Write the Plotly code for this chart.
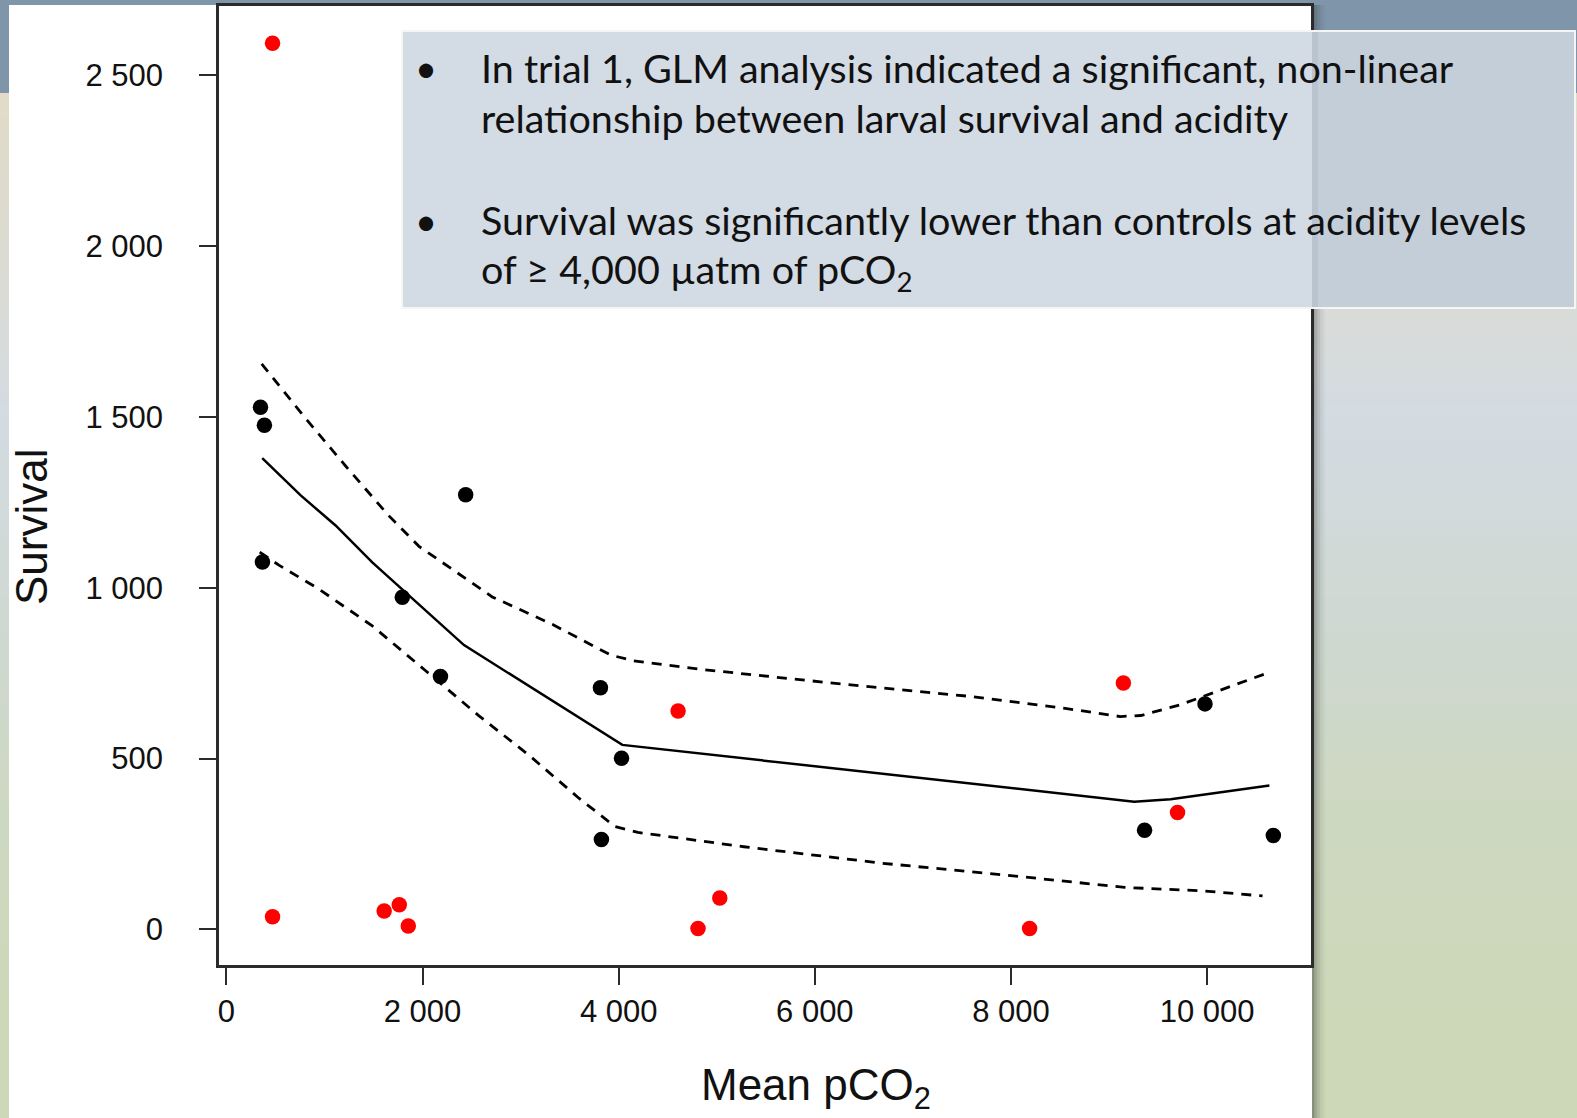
import plotly.graph_objects as go

W, H = 1577, 1118

# ---------------- data ----------------
black_x = [348, 388, 368, 1794, 2183, 2440, 3814, 4029, 3824, 9362, 9978, 10675]
black_y = [1528, 1475, 1075, 972, 740, 1272, 707, 501, 263, 290, 660, 275]

red_x = [471, 471, 1609, 1763, 1855, 4606, 4809, 5031, 8190, 9146, 9698]
red_y = [2593, 37, 54, 72, 10, 639, 3, 92, 3, 721, 342]

fit_x = [366, 758, 1114, 1488, 2423, 4037, 9256, 9628, 10635]
fit_y = [1379, 1270, 1182, 1074, 832, 540, 374, 381, 421]

upper_x = [360, 774, 1216, 1658, 1964, 2354, 2711, 3323, 3917, 4151, 4806,
           6211, 7615, 8551, 9114, 9324, 9722, 10611]
upper_y = [1655, 1507, 1356, 1210, 1121, 1044, 973, 893, 803, 786, 762,
           720, 681, 647, 623, 626, 657, 750]

lower_x = [340, 536, 944, 1488, 2032, 2576, 3085, 3595, 3963, 4197, 5275,
           6679, 8083, 9160, 9956, 10565]
lower_y = [1104, 1066, 996, 888, 757, 625, 510, 384, 301, 284, 242,
           194, 155, 123, 113, 98]

x_tickvals = [0, 2000, 4000, 6000, 8000, 10000]
x_ticktext = ["0", "2 000", "4 000", "6 000", "8 000", "10 000"]
y_tickvals = [0, 500, 1000, 1500, 2000, 2500]
y_ticktext = ["0", "500", "1 000", "1 500", "2 000", "2 500"]

bullet_lines = [
    "In trial 1, GLM analysis indicated a significant, non-linear",
    "relationship between larval survival and acidity",
    "Survival was significantly lower than controls at acidity levels",
    "of \u2265 4,000 \u00b5atm of pCO<sub>2</sub>",
]
x_title = "Mean pCO<sub>2</sub>"
y_title = "Survival"

# ---------------- figure ----------------
fig = go.Figure()

fig.add_trace(go.Scatter(x=upper_x, y=upper_y, mode="lines",
                         line=dict(color="black", width=2.8, dash="10px,8px"),
                         hoverinfo="skip"))
fig.add_trace(go.Scatter(x=lower_x, y=lower_y, mode="lines",
                         line=dict(color="black", width=2.8, dash="10px,8px"),
                         hoverinfo="skip"))
fig.add_trace(go.Scatter(x=fit_x, y=fit_y, mode="lines",
                         line=dict(color="black", width=2.5),
                         hoverinfo="skip"))
fig.add_trace(go.Scatter(x=black_x, y=black_y, mode="markers",
                         marker=dict(color="black", size=15.5, line=dict(width=0))))
fig.add_trace(go.Scatter(x=red_x, y=red_y, mode="markers",
                         marker=dict(color="#FF0000", size=15.5, line=dict(width=0))))


def px_x(p):
    return p / W


def px_y(p):
    return 1 - p / H


shapes = []


def rect(x0, y0, x1, y1, fill, layer="below", line=None):
    d = dict(type="rect", xref="paper", yref="paper",
             x0=px_x(x0), x1=px_x(x1), y0=px_y(y1), y1=px_y(y0),
             fillcolor=fill, layer=layer, line=dict(width=0))
    if line is not None:
        d["line"] = line
    shapes.append(d)


def hex2rgb(h):
    h = h.lstrip("#")
    return tuple(int(h[i:i + 2], 16) for i in (0, 2, 4))


# slide background: top band + vertical gradient
rect(0, 0, W, 93, "#7F95AA")
stops = [(93, "#E2DCC7"), (250, "#DCDBD2"), (420, "#D4DBE2"), (600, "#D0D9D4"),
         (800, "#CED8C2"), (1000, "#CDD8BA"), (1118, "#CDD8B8")]
step = 12
y = 93
while y < H:
    yc = y + step / 2
    for (a, ca), (b, cb) in zip(stops[:-1], stops[1:]):
        if a <= yc <= b:
            t = (yc - a) / (b - a)
            r1, g1, b1 = hex2rgb(ca)
            r2, g2, b2 = hex2rgb(cb)
            col = "rgb(%d,%d,%d)" % (r1 + (r2 - r1) * t, g1 + (g2 - g1) * t, b1 + (b2 - b1) * t)
            break
    rect(0, y, W, min(y + step + 1, H), col)
    y += step

# white picture area
rect(9, 5, 1312, H, "white")
# shadow right of the white area
for i, a in enumerate([0.42, 0.28, 0.17, 0.09, 0.04]):
    rect(1312 + 2.6 * i, 5, 1312 + 2.6 * (i + 1), H, "rgba(40,45,40,%.2f)" % a)

# text box (above axes)
rect(402, 31, 1312, 308, "#D3DBE4", layer="above")
rect(1312, 31, 1575, 308, "#C4CED9", layer="above")
rect(1312, 31, 1318, 308, "#BAC4CE", layer="above")
rect(402, 31, 1575, 308, "rgba(0,0,0,0)", layer="above",
     line=dict(color="#F4F6F2", width=2))

annotations = []
line_y = [67.0, 117.4, 220.0, 271.3]
for txt, yy in zip(bullet_lines, line_y):
    annotations.append(dict(text=txt, xref="paper", yref="paper",
                            x=px_x(479), y=px_y(yy), xanchor="left", yanchor="middle",
                            showarrow=False,
                            font=dict(family="Lato", size=39.5, color="#111111")))
for yy in (line_y[0], line_y[2]):
    annotations.append(dict(text="\u2022", xref="paper", yref="paper",
                            x=px_x(426), y=px_y(yy), xanchor="center", yanchor="middle",
                            showarrow=False,
                            font=dict(family="Lato", size=38, color="#111111")))

annotations.append(dict(text=x_title, xref="paper", yref="paper",
                        x=px_x(816), y=px_y(1088), xanchor="center", yanchor="middle",
                        showarrow=False,
                        font=dict(family="Liberation Sans", size=44, color="#111111")))
annotations.append(dict(text=y_title, xref="paper", yref="paper",
                        x=px_x(31), y=px_y(527), xanchor="center", yanchor="middle",
                        textangle=-90, showarrow=False,
                        font=dict(family="Liberation Sans", size=44, color="#111111")))

axis_common = dict(showgrid=False, zeroline=False, showline=True, mirror=True,
                   linecolor="#2B2B2B", linewidth=2.5, ticks="outside", ticklen=17,
                   tickwidth=2, tickcolor="#2B2B2B", automargin=False, fixedrange=True,
                   tickfont=dict(family="Liberation Sans", size=31, color="#111111"))

fig.update_layout(
    width=W, height=H, template="none",
    margin=dict(l=0, r=0, t=0, b=0, pad=0),
    paper_bgcolor="#D5DAD8", plot_bgcolor="white",
    showlegend=False,
    shapes=shapes, annotations=annotations,
    xaxis=dict(domain=[219 / W, 1311 / W], range=[-75, 11059],
               tickvals=x_tickvals, ticktext=x_ticktext, ticklabelstandoff=0,
               **axis_common),
    yaxis=dict(domain=[1 - 965 / H, 1 - 6 / H], range=[-104, 2702],
               tickvals=y_tickvals, ticktext=y_ticktext, ticklabelstandoff=30,
               **axis_common),
)

fig.write_html("out.html")
